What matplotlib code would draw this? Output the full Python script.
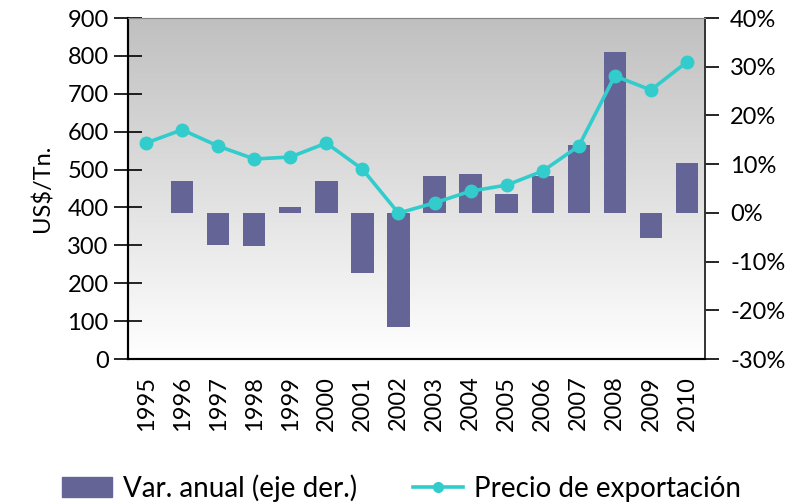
import numpy as np
import matplotlib.pyplot as plt
from matplotlib.patches import Patch
from matplotlib.lines import Line2D

plt.rcParams['font.family'] = ['Lato', 'DejaVu Sans']

# -----------------------------
# Data
# -----------------------------
years = ["1995", "1996", "1997", "1998", "1999", "2000", "2001", "2002",
         "2003", "2004", "2005", "2006", "2007", "2008", "2009", "2010"]
precio = [570, 605, 562, 528, 533, 570, 501, 385,
          412, 443, 459, 496, 562, 747, 710, 784]
var_anual = [np.nan, 6.6, -6.6, -6.9, 1.3, 6.6, -12.3, -23.5,
             7.5, 7.9, 3.8, 7.5, 14.0, 33.1, -5.2, 10.3]

bar_color = "#646496"
line_color = "#33CCCC"
fs = 17

x = np.arange(len(years))

fig = plt.figure(figsize=(8.08, 5.04), dpi=100)
ax = fig.add_axes([128 / 808, 1 - 359 / 504, (705 - 128) / 808, (359 - 18) / 504])
ax2 = ax.twinx()

# gradient background (gray at top -> white at bottom)
grad = np.linspace(0, 1, 256).reshape(-1, 1)
ax.imshow(grad, extent=[-0.5, 15.5, -30, 40], aspect="auto",
          cmap=plt.matplotlib.colors.LinearSegmentedColormap.from_list(
              "bg", ["#c0c0c0", "#ffffff"]),
          origin="upper", zorder=0)

# bars on the percentage axis (drawn in ax, ticks on right)
ax.bar(x, var_anual, width=0.62, color=bar_color, zorder=2)
ax.set_xlim(-0.5, 15.5)
ax.set_ylim(-30, 40)
ax.yaxis.tick_right()
ax.set_yticks(np.arange(-30, 41, 10))
ax.set_yticklabels([f"{v}%" for v in range(-30, 41, 10)], fontsize=fs)
ax.tick_params(axis="y", direction="out", length=10, width=1.2, pad=8)

# line on the US$ axis (ticks on left)
ax2.plot(x, precio, color=line_color, lw=2.6, marker="o", ms=9, zorder=3)
ax2.set_ylim(0, 900)
ax2.yaxis.tick_left()
ax2.yaxis.set_label_position("left")
ax2.set_yticks(np.arange(0, 901, 100))
ax2.tick_params(axis="y", labelsize=fs, direction="inout", length=20, width=1.2, pad=4)
ax2.set_ylabel("US$/Tn.", fontsize=fs, labelpad=10)

# x axis: ticks at category boundaries, labels at centres
ax.set_xticks(np.arange(-0.5, 16, 1))
ax.set_xticklabels([])
ax.tick_params(axis="x", direction="inout", length=20, width=1.2)
ax.set_xticks(x, minor=True)
ax.set_xticklabels(years, minor=True, rotation=90, fontsize=fs)
ax.tick_params(axis="x", which="minor", length=0, pad=12)
ax2.set_xticks([])

for a in (ax, ax2):
    a.spines["top"].set_color("#888888")
    a.spines["left"].set_linewidth(1.5)
    a.spines["bottom"].set_linewidth(1.5)
    a.spines["right"].set_linewidth(1.2)
    a.spines["right"].set_color("#333333")

# legend
handles = [Patch(color=bar_color, label="Var. anual (eje der.)"),
           Line2D([0], [0], color=line_color, lw=2.6, marker="o", ms=7,
                  label="Precio de exportación")]
fig.legend(handles=handles, loc="center", bbox_to_anchor=(0.497, 0.032), ncol=2,
           frameon=False, fontsize=20, handlelength=1.8, handleheight=0.75,
           columnspacing=2.0, handletextpad=0.4)

plt.savefig("out.png", dpi=100)
